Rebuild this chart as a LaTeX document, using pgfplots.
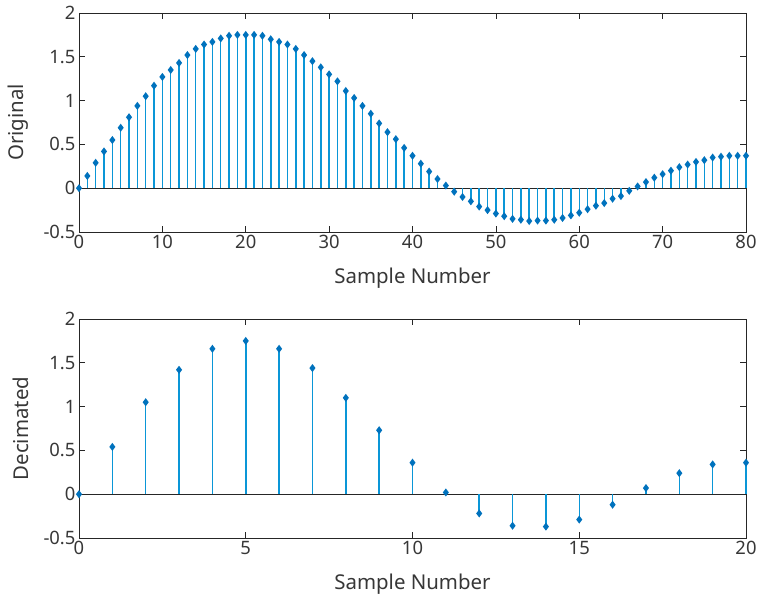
\documentclass[border=0pt]{standalone}
\usepackage{pgfplots}
\pgfplotsset{compat=1.18}
\usepackage{pgfplotstable}
\usepackage{fontspec}
\setmainfont{Noto Sans}
\definecolor{stemblue}{RGB}{10,150,215}
\definecolor{markblue}{RGB}{0,114,189}
\definecolor{axgray}{RGB}{38,38,38}
\definecolor{txtgray}{RGB}{55,55,55}

\pgfplotstableread{
n y
0 0
1 0.14
2 0.29
3 0.42
4 0.55
5 0.69
6 0.81
7 0.94
8 1.05
9 1.17
10 1.27
11 1.35
12 1.43
13 1.52
14 1.59
15 1.64
16 1.67
17 1.71
18 1.74
19 1.75
20 1.75
21 1.75
22 1.74
23 1.70
24 1.67
25 1.64
26 1.59
27 1.52
28 1.45
29 1.38
30 1.30
31 1.22
32 1.11
33 1.03
34 0.94
35 0.85
36 0.74
37 0.64
38 0.56
39 0.46
40 0.37
41 0.28
42 0.19
43 0.105
44 0.03
45 -0.04
46 -0.10
47 -0.15
48 -0.21
49 -0.25
50 -0.29
51 -0.32
52 -0.35
53 -0.36
54 -0.375
55 -0.37
56 -0.37
57 -0.36
58 -0.34
59 -0.31
60 -0.28
61 -0.24
62 -0.20
63 -0.17
64 -0.12
65 -0.09
66 -0.03
67 0.02
68 0.07
69 0.12
70 0.16
71 0.20
72 0.24
73 0.27
74 0.30
75 0.32
76 0.35
77 0.36
78 0.37
79 0.37
80 0.37
}\orig

\pgfplotstableread{
n y
0 0
1 0.54
2 1.05
3 1.42
4 1.66
5 1.75
6 1.66
7 1.44
8 1.10
9 0.73
10 0.36
11 0.02
12 -0.22
13 -0.36
14 -0.37
15 -0.29
16 -0.12
17 0.07
18 0.24
19 0.34
20 0.36
}\deci

\pgfplotsset{
  stemax/.style={
    scale only axis,
    width=667bp, height=219bp,
    ymin=-0.5, ymax=2,
    ytick={-0.5,0,0.5,1,1.5,2},
    yticklabels={-0.5,0,0.5,1,1.5,2},
    axis line style={axgray, line width=0.7bp},
    tick style={axgray, line width=0.7bp},
    major tick length=6bp,
    tick align=inside,
    ticklabel style={font=\fontsize{18.5}{20}\selectfont, text=txtgray},
    label style={font=\fontsize{20.5}{22}\selectfont, text=txtgray},
    xlabel={Sample Number},
    xlabel style={yshift=-12bp},
    ylabel style={yshift=8bp},
    /pgf/number format/assume math mode=true,
    clip=false,
  },
  stem/.style={ycomb, stemblue, line width=1.5bp,
    mark=diamond*, mark size=2.8bp,
    mark options={markblue, fill=markblue}},
}

\begin{document}
\begin{tikzpicture}
\useasboundingbox (0,0) rectangle (757bp,597bp);
\begin{axis}[stemax, at={(79bp,365bp)},
  xmin=0, xmax=80, xtick={0,10,...,80}, ylabel={Original}]
\addplot [axgray, line width=0.9bp] coordinates {(0,0) (80,0)};
\addplot [stem] table [x=n, y=y] {\orig};
\end{axis}
\begin{axis}[stemax, at={(79bp,59bp)},
  xmin=0, xmax=20, xtick={0,5,...,20}, ylabel={Decimated}]
\addplot [axgray, line width=0.9bp] coordinates {(0,0) (20,0)};
\addplot [stem] table [x=n, y=y] {\deci};
\end{axis}
\end{tikzpicture}
\end{document}
